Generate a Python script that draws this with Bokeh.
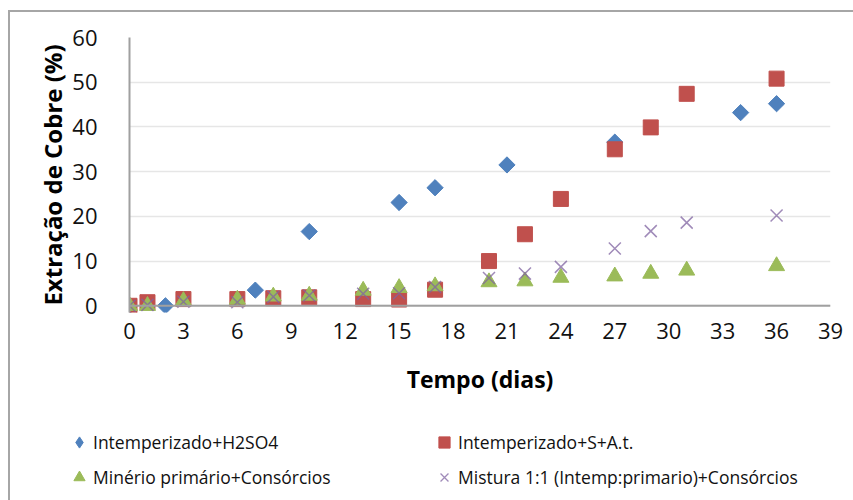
import math
from bokeh.plotting import figure
from bokeh.models import Range1d, FixedTicker, Legend, LegendItem, Span
from bokeh.embed import file_html
from bokeh.resources import INLINE

# ---- data ----
days_h2so4 = [0, 2, 7, 10, 15, 17, 21, 27, 34, 36]
vals_h2so4 = [0, 0, 3.5, 16.6, 23.1, 26.4, 31.5, 36.6, 43.2, 45.2]

days_sat = [0, 1, 3, 6, 8, 10, 13, 15, 17, 20, 22, 24, 27, 29, 31, 36]
vals_sat = [0, 0.8, 1.5, 1.5, 1.7, 1.9, 1.5, 1.4, 3.6, 10.0, 16.0, 23.9, 35.0, 39.9, 47.4, 50.8]

days_prim = [0, 1, 3, 6, 8, 10, 13, 15, 17, 20, 22, 24, 27, 29, 31, 36]
vals_prim = [0, 0, 1.1, 1.4, 2.1, 2.3, 3.4, 4.0, 4.4, 5.3, 5.5, 6.3, 6.6, 7.2, 7.9, 8.9]

days_mix = [0, 1, 3, 6, 8, 10, 13, 15, 17, 20, 22, 24, 27, 29, 31, 36]
vals_mix = [0, 0.2, 0.9, 0.8, 2.0, 2.3, 2.7, 2.8, 4.2, 6.2, 7.2, 8.7, 12.8, 16.7, 18.6, 20.2]

x_ticks = list(range(0, 40, 3))
y_ticks = list(range(0, 61, 10))

labels = ["Intemperizado+H2SO4", "Intemperizado+S+A.t.",
          "Minério primário+Consórcios", "Mistura 1:1 (Intemp:primario)+Consórcios"]

FONT = "Open Sans"
BLUE, RED, GREEN, PURPLE = "#4F81BD", "#C0504D", "#9BBB59", "#8064A2"

main_styles = [
    dict(marker="square", angle=math.pi / 4, size=11.5, fill_color=BLUE, line_color=BLUE),
    dict(marker="square", size=15, fill_color=RED, line_color=RED),
    dict(marker="triangle", size=16, fill_color=GREEN, line_color=GREEN),
    dict(marker="x", size=17, line_color=PURPLE, line_width=1.5, line_alpha=0.75),
]
legend_styles = [
    dict(marker="diamond", fill_color=BLUE, line_color=BLUE),
    dict(marker="square", fill_color=RED, line_color=RED),
    dict(marker="triangle", fill_color=GREEN, line_color=GREEN),
    dict(marker="x", line_color=PURPLE, line_width=1.3, line_alpha=0.75),
]

BORDER = "#a6a6a6"

p = figure(width=853, height=400, output_backend="svg", toolbar_location=None,
           x_range=Range1d(0, 39), y_range=Range1d(-1.5, 60),
           min_border_left=129, min_border_right=23, min_border_top=37, min_border_bottom=88)

p.border_fill_alpha = 0
p.background_fill_color = "white"
p.outline_line_color = None
p.styles = {"box-shadow": f"inset 0 10px 0 0 #ffffff, inset 8px 0 0 0 #ffffff, "
                          f"inset 0 12px 0 0 {BORDER}, inset 10px 0 0 0 {BORDER}",
            "background": "white"}

p.xgrid.grid_line_color = None
p.ygrid.grid_line_color = "#e6e6e6"
p.ygrid.grid_line_width = 1.5
p.yaxis.ticker = FixedTicker(ticks=y_ticks)
p.xaxis.ticker = FixedTicker(ticks=x_ticks)

for ax in (p.xaxis, p.yaxis):
    ax.axis_line_color = "#a0a0a0"
    ax.axis_line_width = 2
    ax.major_tick_line_color = None
    ax.minor_tick_line_color = None
    ax.major_label_text_font = FONT
    ax.major_label_text_font_size = "22px"
    ax.major_label_text_color = "#111111"
    ax.axis_label_text_font = FONT
    ax.axis_label_text_font_style = "bold"
    ax.axis_label_text_color = "#000000"
p.xaxis.axis_label_text_font_size = "23px"
p.yaxis.axis_label_text_font_size = "24px"

p.xaxis.axis_line_color = None
p.add_layout(Span(location=0, dimension="width", line_color="#a0a0a0", line_width=2))

p.xaxis.axis_label = "Tempo (dias)"
p.yaxis.axis_label = "Extração de Cobre (%)"
p.xaxis.major_label_standoff = 4
p.xaxis.axis_label_standoff = 21
p.yaxis.major_label_standoff = 26
p.yaxis.axis_label_standoff = 0

series = [(days_h2so4, vals_h2so4), (days_sat, vals_sat),
          (days_prim, vals_prim), (days_mix, vals_mix)]
for (xs, ys), st in zip(series, main_styles):
    p.scatter(xs, ys, **st)

# ---- legend strip: a separate root so it is neither aligned nor clipped ----
p2 = figure(width=853, height=100, output_backend="svg", toolbar_location=None,
            x_range=Range1d(0, 1), y_range=Range1d(0, 1),
            x_axis_type=None, y_axis_type=None,
            min_border_left=0, min_border_right=0, min_border_top=0, min_border_bottom=0)
p2.border_fill_alpha = 0
p2.background_fill_alpha = 0
p2.outline_line_color = None
p2.grid.visible = False
p2.styles = {"box-shadow": f"inset 8px 0 0 0 #ffffff, inset 10px 0 0 0 {BORDER}",
             "background": "white"}

legend_glyphs = [p2.scatter([float("nan")], [float("nan")], **st) for st in legend_styles]
items = [LegendItem(label=lab, renderers=[g]) for lab, g in zip(labels, legend_glyphs)]
leg = Legend(items=items, orientation="horizontal", ncols=2, location=(65, 9))
leg.border_line_color = None
leg.background_fill_alpha = 0
leg.label_text_font = FONT
leg.label_text_font_size = "17.5px"
leg.label_text_color = "#111111"
leg.glyph_width = 28
leg.glyph_height = 28
leg.label_height = 20
leg.label_standoff = 0
leg.spacing = 7
leg.label_width = 330
leg.padding = 0
leg.margin = 0
p2.add_layout(leg, "center")

open("out.html", "w").write(file_html([p, p2], INLINE))
